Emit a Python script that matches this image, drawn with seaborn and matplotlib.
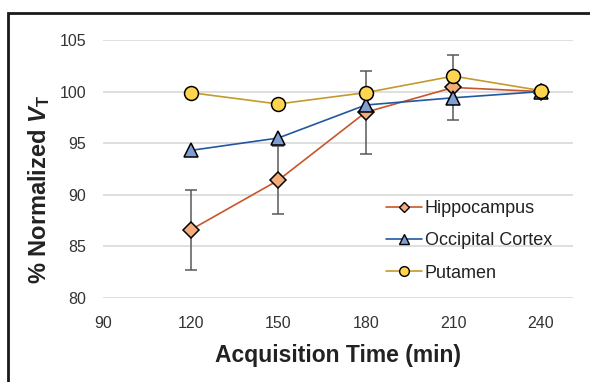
import numpy as np
import pandas as pd
import seaborn as sns
import matplotlib.pyplot as plt
from matplotlib.lines import Line2D
from matplotlib.patches import Rectangle

times = [120, 150, 180, 210, 240]
hippocampus = [86.6, 91.4, 98.0, 100.4, 100.0]
hippo_err = [3.9, 3.3, 4.0, 3.15, 0.0]
occipital = [94.3, 95.5, 98.7, 99.4, 100.0]
putamen = [99.9, 98.8, 99.9, 101.5, 100.1]

regions = ['Hippocampus', 'Occipital Cortex', 'Putamen']
line_colors = {'Hippocampus': '#C8562A', 'Occipital Cortex': '#2357A0', 'Putamen': '#C39A2B'}
fill_colors = {'Hippocampus': '#F4AD7A', 'Occipital Cortex': '#7F9FD3', 'Putamen': '#FFD54F'}
markers = {'Hippocampus': 'D', 'Occipital Cortex': '^', 'Putamen': 'o'}
msizes = {'Hippocampus': 8, 'Occipital Cortex': 10, 'Putamen': 10}

df = pd.DataFrame({
    'time': times * 3,
    'value': hippocampus + occipital + putamen,
    'region': [r for r in regions for _ in times],
})

sns.set_theme(style='white')
plt.rcParams['font.family'] = ['Liberation Sans', 'DejaVu Sans']
plt.rcParams['mathtext.fontset'] = 'custom'
plt.rcParams['mathtext.rm'] = 'Liberation Sans'
plt.rcParams['mathtext.it'] = 'Liberation Sans:italic'
plt.rcParams['mathtext.bf'] = 'Liberation Sans:bold'
plt.rcParams['mathtext.bfit'] = 'Liberation Sans:italic:bold'

fig = plt.figure(figsize=(5.9, 3.82), dpi=100)
ax = fig.add_axes([103 / 590, 1 - 298 / 382, 470 / 590, 258 / 382])

# error bars (hippocampus)
ax.errorbar(times, hippocampus, yerr=hippo_err, fmt='none', ecolor='#595959',
            elinewidth=1.1, capsize=4, capthick=1.1, zorder=2)

for i, r in enumerate(regions):
    sub = df[df.region == r]
    sns.lineplot(data=sub, x='time', y='value', color=line_colors[r], lw=1.2,
                 ax=ax, zorder=3 + i, legend=False)
    ax.plot(sub.time, sub.value, ls='none', marker=markers[r], ms=msizes[r],
            mfc=fill_colors[r], mec='black', mew=1.1, zorder=3 + i)

ax.set_xlim(90, 251)
ax.set_ylim(80, 105)
ax.set_xticks([90, 120, 150, 180, 210, 240])
ax.set_yticks([80, 85, 90, 95, 100, 105])
ax.yaxis.grid(True, color='#D9D9D9', lw=1.2)
ax.xaxis.grid(False)
for s in ax.spines.values():
    s.set_visible(False)
ax.tick_params(axis='both', labelsize=11.5, colors='#333333', length=0)
ax.tick_params(axis='x', pad=13)
ax.tick_params(axis='y', pad=12)

ax.set_xlabel('Acquisition Time (min)', fontsize=16.5, fontweight='bold', color='#222222', labelpad=9)
ax.set_ylabel(r'% Normalized $\mathbfit{V}_{\mathbf{T}}$', fontsize=17, fontweight='bold',
              color='#222222', labelpad=8)
ax.yaxis.set_label_coords(-0.108, 0.42)

handles = [Line2D([], [], color=line_colors[r], lw=1.2, marker=markers[r],
                  ms=msizes[r] * 0.7, mfc=fill_colors[r], mec='black', mew=1.0)
           for r in regions]
ax.legend(handles, regions, loc='lower right', bbox_to_anchor=(0.99, 0.0),
          frameon=False, fontsize=13, handlelength=2.0, handletextpad=0.15,
          labelspacing=0.85, labelcolor='#222222')

fig.patches.append(Rectangle((8 / 590, -0.1), 1.2, 1 - 13 / 382 + 0.1,
                             transform=fig.transFigure, fill=False,
                             edgecolor='#1a1a1a', lw=2.0))

fig.savefig('out.png', dpi=100)
